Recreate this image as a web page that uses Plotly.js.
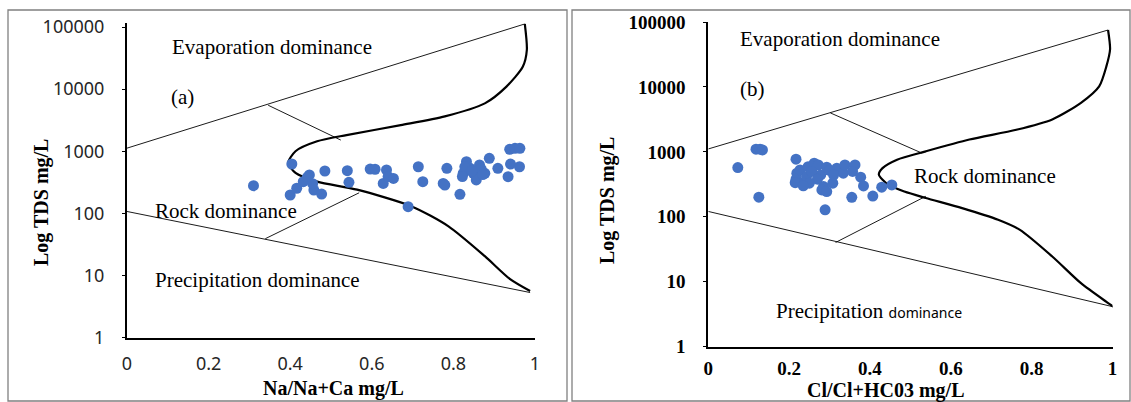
<!DOCTYPE html>
<html><head><meta charset="utf-8">
<script src="https://cdn.plot.ly/plotly-3.0.1.min.js"></script>
<style>html,body{margin:0;padding:0;background:#fff}</style>
</head><body><div id="chart" style="width:1131px;height:402px"></div>
<script>
// ---- Panel (a): Na/(Na+Ca) ----
const aSampleX = [0.310,0.404,0.400,0.416,0.432,0.447,0.458,0.477,0.485,0.540,0.544,0.596,0.608,0.636,0.628,0.640,0.653,0.689,0.714,0.725,0.775,0.784,0.816,0.824,0.832,0.841,0.849,0.856,0.864,0.877,0.888,0.909,0.934,0.938,0.951,0.963,0.940,0.962,0.442,0.455,0.779,0.828,0.868,0.845,0.872,0.822];
const aSampleTDS = [278,622,197,253,323,414,237,204,480,485,316,516,512,500,303,390,365,128,562,323,303,529,202,441,678,529,441,344,600,441,769,529,389,1070,1114,1114,620,562,380,300,285,560,520,480,420,390];
const aCurveX = [0.975,0.980,0.970,0.930,0.877,0.779,0.671,0.538,0.466,0.413,0.395,0.413,0.466,0.564,0.698,0.788,0.877,0.939,0.988];
const aCurveTDS = [112200,42660,22900,10960,5890,3630,2630,1820,1445,1000,646,447,324,240,129,61.7,20.4,8.7,5.6];
const aUpperX = [0, 0.975], aUpperTDS = [1120, 112000];
const aUpperBranchX = [0.346, 0.524], aUpperBranchTDS = [5500, 1510];
const aLowerX = [0, 0.988], aLowerTDS = [107, 5.3];
const aLowerBranchX = [0.339, 0.569], aLowerBranchTDS = [39, 214];

// ---- Panel (b): Cl/(Cl+HCO3) ----
const bSampleX = [0.073,0.118,0.128,0.134,0.125,0.217,0.217,0.219,0.227,0.215,0.239,0.247,0.262,0.272,0.278,0.285,0.281,0.293,0.289,0.293,0.308,0.318,0.334,0.338,0.363,0.357,0.377,0.384,0.355,0.407,0.429,0.454,0.243,0.256,0.270,0.300,0.250,0.310,0.235];
const bSampleTDS = [573,1100,1100,1070,201,771,380,470,528,336,348,592,670,628,442,292,259,245,128,580,330,560,470,630,630,500,408,299,200,209,286,310,417,500,380,520,330,440,300];
const bCurveX = [0.989,0.994,0.985,0.967,0.922,0.851,0.762,0.646,0.538,0.467,0.431,0.422,0.445,0.485,0.538,0.628,0.717,0.771,0.851,0.922,0.985,1.003];
const bCurveTDS = [75300,38000,20900,10200,5690,3160,2190,1550,1020,759,562,447,313,245,195,136,90,63,24.5,9.5,4.9,4.1];
const bUpperX = [0, 0.989], bUpperTDS = [1110, 75300];
const bUpperBranchX = [0.302, 0.529], bUpperBranchTDS = [3980, 955];
const bLowerX = [0, 1.003], bLowerTDS = [121, 4.1];
const bLowerBranchX = [0.315, 0.538], bLowerBranchTDS = [40.3, 207];

const tickVals = [1,10,100,1000,10000,100000];
const yTickText = ['1','10','100','1000','10000','100000'];
const xTickVals = [0,0.2,0.4,0.6,0.8,1];
const xTickText = ['0','0.2','0.4','0.6','0.8','1'];

const W = 1131, H = 402;
const px = v => v / W, py = v => (H - v) / H;

function thin(x, y, xa, ya) {
  return {x, y, xaxis: xa, yaxis: ya, mode: 'lines', type: 'scatter',
    line: {color: '#000', width: 0.9}, hoverinfo: 'skip', showlegend: false};
}
function thick(x, y, xa, ya) {
  return {x, y, xaxis: xa, yaxis: ya, mode: 'lines', type: 'scatter',
    line: {color: '#000', width: 2.2, shape: 'spline', smoothing: 0.7}, hoverinfo: 'skip', showlegend: false};
}
function pts(x, y, xa, ya) {
  return {x, y, xaxis: xa, yaxis: ya, mode: 'markers', type: 'scatter',
    marker: {color: '#4472C4', size: 11}, showlegend: false, cliponaxis: false};
}

const data = [
  thin(aUpperX, aUpperTDS, 'x', 'y'),
  thin(aUpperBranchX, aUpperBranchTDS, 'x', 'y'),
  thin(aLowerX, aLowerTDS, 'x', 'y'),
  thin(aLowerBranchX, aLowerBranchTDS, 'x', 'y'),
  thick(aCurveX, aCurveTDS, 'x', 'y'),
  pts(aSampleX, aSampleTDS, 'x', 'y'),
  thin(bUpperX, bUpperTDS, 'x2', 'y2'),
  thin(bUpperBranchX, bUpperBranchTDS, 'x2', 'y2'),
  thin(bLowerX, bLowerTDS, 'x2', 'y2'),
  thin(bLowerBranchX, bLowerBranchTDS, 'x2', 'y2'),
  thick(bCurveX, bCurveTDS, 'x2', 'y2'),
  pts(bSampleX, bSampleTDS, 'x2', 'y2')
];

const fa = {family: 'Noto Sans, DejaVu Sans, sans-serif', size: 18, color: '#262626'};
const fb = {family: 'Liberation Serif, serif', size: 19, color: '#000', weight: 'bold'};
const serif = {family: 'Liberation Serif, serif', size: 21, color: '#000'};
const titleFont = {family: 'Liberation Serif, serif', size: 20, color: '#000', weight: 'bold'};

function xax(domain, font, anchor, standoff) {
  return {domain, range: [0, 1], anchor, showgrid: false, zeroline: false, showline: true,
    linecolor: '#000', linewidth: 2, ticks: '', tickvals: xTickVals, ticktext: xTickText,
    tickfont: font, ticklabelstandoff: standoff, fixedrange: true};
}
function yax(domain, range, font, anchor, standoff) {
  return {domain, range, type: 'log', anchor, showgrid: false, zeroline: false, showline: true,
    linecolor: '#000', linewidth: 2, ticks: 'outside', ticklen: 3, tickcolor: '#000', tickvals: tickVals, ticktext: yTickText,
    tickfont: font, ticklabelstandoff: standoff, fixedrange: true};
}

const aTop = 337.5 - 5.06 * 62.1;
const layout = {
  width: W, height: H, margin: {l: 0, r: 0, t: 0, b: 0},
  paper_bgcolor: '#fff', plot_bgcolor: 'rgba(0,0,0,0)', showlegend: false,
  xaxis: xax([px(127), px(535)], fa, 'y', 9),
  yaxis: yax([py(337.5), py(aTop)], [0, 5.06], fa, 'x', 14),
  xaxis2: xax([px(708.3), px(1112.5)], fb, 'y2', 3),
  yaxis2: yax([py(346.7), py(22)], [0, 5], fb, 'x2', 14),
  shapes: [
    {type: 'rect', xref: 'paper', yref: 'paper', x0: px(8), x1: px(567), y0: py(401), y1: py(10), line: {color: '#808080', width: 1.3}},
    {type: 'rect', xref: 'paper', yref: 'paper', x0: px(572), x1: px(1130), y0: py(401), y1: py(10), line: {color: '#808080', width: 1.3}}
  ],
  annotations: [
    {xref: 'x', yref: 'y', x: 0.105, y: 4.68, text: 'Evaporation dominance', showarrow: false, xanchor: 'left', yanchor: 'middle', font: serif},
    {xref: 'x', yref: 'y', x: 0.103, y: 3.87, text: '(a)', showarrow: false, xanchor: 'left', yanchor: 'middle', font: serif},
    {xref: 'x', yref: 'y', x: 0.064, y: 2.04, text: 'Rock dominance', showarrow: false, xanchor: 'left', yanchor: 'middle', font: serif},
    {xref: 'x', yref: 'y', x: 0.064, y: 0.926, text: 'Precipitation dominance', showarrow: false, xanchor: 'left', yanchor: 'middle', font: serif},
    {xref: 'x2', yref: 'y2', x: 0.0725, y: 4.74, text: 'Evaporation dominance', showarrow: false, xanchor: 'left', yanchor: 'middle', font: serif},
    {xref: 'x2', yref: 'y2', x: 0.0725, y: 3.97, text: '(b)', showarrow: false, xanchor: 'left', yanchor: 'middle', font: serif},
    {xref: 'x2', yref: 'y2', x: 0.503, y: 2.63, text: 'Rock dominance', showarrow: false, xanchor: 'left', yanchor: 'middle', font: serif},
    {xref: 'x2', yref: 'y2', x: 0.162, y: 0.55, text: 'Precipitation <span style="font-family:Noto Sans;font-size:14px">dominance</span>', showarrow: false, xanchor: 'left', yanchor: 'middle', font: serif},
    {xref: 'paper', yref: 'paper', x: px(41), y: py(202), text: 'Log TDS mg/L', textangle: -90, showarrow: false, xanchor: 'center', yanchor: 'middle', font: titleFont},
    {xref: 'paper', yref: 'paper', x: px(333), y: py(388), text: 'Na/Na+Ca mg/L', showarrow: false, xanchor: 'center', yanchor: 'middle', font: titleFont},
    {xref: 'paper', yref: 'paper', x: px(607), y: py(201), text: 'Log TDS mg/L', textangle: -90, showarrow: false, xanchor: 'center', yanchor: 'middle', font: titleFont},
    {xref: 'paper', yref: 'paper', x: px(886), y: py(390), text: 'Cl/Cl+HC03 mg/L', showarrow: false, xanchor: 'center', yanchor: 'middle', font: titleFont}
  ]
};

Plotly.newPlot('chart', data, layout, {displayModeBar: false, staticPlot: true});
</script></body></html>
